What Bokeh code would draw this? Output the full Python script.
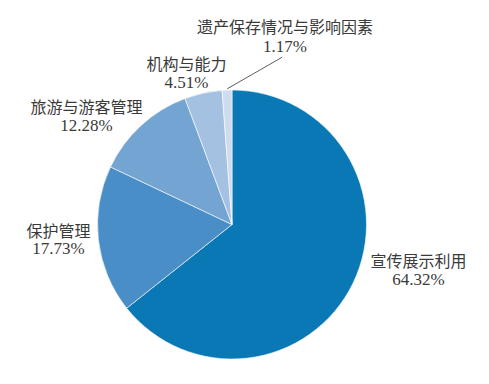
import math
from bokeh.plotting import figure
from bokeh.models import ColumnDataSource, Range1d
from bokeh.core.properties import value
from bokeh.embed import file_html
from bokeh.resources import INLINE

categories = ["宣传展示利用", "保护管理", "旅游与游客管理", "机构与能力", "遗产保存情况与影响因素"]
shares = [64.32, 17.73, 12.28, 4.51, 1.17]
pct_labels = ["64.32%", "17.73%", "12.28%", "4.51%", "1.17%"]
colors = ["#0a78b4", "#4a8ec8", "#74a5d2", "#a4c1e2", "#cddcee"]

W, H = 473, 368
p = figure(width=W, height=H, output_backend="svg", toolbar_location=None,
           x_range=Range1d(0, W), y_range=Range1d(0, H), min_border=0)
p.axis.visible = False
p.grid.visible = False
p.outline_line_color = None
p.background_fill_color = "white"

cx, cy, r = 231.5, 144.0, 134.5
total = sum(shares)
starts, ends = [], []
acc = 0.0
for s in shares:
    a0 = acc / total * 2 * math.pi
    acc += s
    a1 = acc / total * 2 * math.pi
    starts.append(math.pi / 2 - a1)
    ends.append(math.pi / 2 - a0)

src = ColumnDataSource(dict(cat=categories, start=starts, end=ends, color=colors))
p.wedge(x=cx, y=cy, radius=r, start_angle="start", end_angle="end",
        direction="anticlock", fill_color="color", line_color="white",
        line_width=0.6, source=src)

lab_x = [418, 58, 86, 186, 284.5]
lab_y = [109, 139, 263, 306, 343]
pct_y = [89, 120, 243, 286, 322]
p.text(x=lab_x, y=lab_y, text=categories, text_font=value("Noto Sans CJK SC"),
       text_font_size="16px", text_color="#3a3a3a", text_align="center",
       text_baseline="middle")
p.text(x=lab_x, y=pct_y, text=pct_labels, text_font=value("Liberation Serif"),
       text_font_size="17px", text_color="#3a3a3a", text_align="center",
       text_baseline="middle")

p.line(x=[226.7, 281.7], y=[279.7, 311.3], line_color="#333333", line_width=0.8)

open("out.html", "w").write(file_html(p, INLINE))
